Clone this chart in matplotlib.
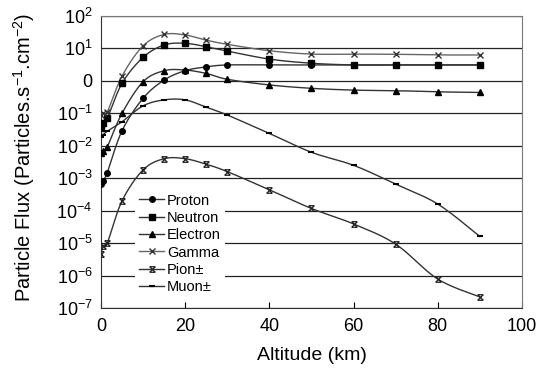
import numpy as np
import matplotlib
matplotlib.use('Agg')
import matplotlib.pyplot as plt
from matplotlib.path import Path

plt.rcParams['font.family'] = 'Liberation Sans'
plt.rcParams['mathtext.fontset'] = 'custom'
plt.rcParams['mathtext.rm'] = 'Liberation Sans'
plt.rcParams['mathtext.it'] = 'Liberation Sans'
plt.rcParams['mathtext.default'] = 'regular'

# altitude (km) and particle flux (particles/s/cm2) per species
altitude = [0, 0.5, 1.5, 5, 10, 15, 20, 25, 30, 40, 50, 60, 70, 80, 90]
proton = [6.5e-4, 8.5e-4, 1.5e-3, 0.029, 0.29, 1.06, 2.06, 2.7, 3.1, 3.1, 3.1, 3.1, 3.1, 3.1, 3.1]
neutron = [0.036, 0.049, 0.07, 0.84, 5.3, 12.8, 14.4, 11.3, 8.3, 4.7, 3.5, 3.1, 3.1, 3.1, 3.1]
electron = [0.0058, 0.0069, 0.0093, 0.1, 0.94, 2.06, 2.16, 1.7, 1.12, 0.75, 0.59, 0.52, 0.50, 0.46, 0.44]
gamma = [0.09, 0.10, 0.11, 1.4, 12, 27, 26, 18, 13.4, 8.5, 6.7, 6.7, 6.6, 6.3, 6.3]
pion = [4.5e-6, 8e-6, 1e-5, 2e-4, 1.8e-3, 4e-3, 4e-3, 2.7e-3, 1.6e-3, 4.4e-4, 1.17e-4, 3.9e-5, 9.3e-6, 7.8e-7, 2.2e-7]
muon = [0.019, 0.022, 0.028, 0.055, 0.17, 0.26, 0.26, 0.155, 0.089, 0.024, 0.0063, 0.0025, 6.6e-4, 1.6e-4, 1.6e-5]

names = ['Proton', 'Neutron', 'Electron', 'Gamma', 'Pion\u00b1', 'Muon\u00b1']
series = [proton, neutron, electron, gamma, pion, muon]

# asterisk-like marker: a cross capped top and bottom
star = Path([(-1, -1), (1, 1), (-1, 1), (1, -1), (-1, 1), (1, 1), (-1, -1), (1, -1)],
            [Path.MOVETO, Path.LINETO, Path.MOVETO, Path.LINETO,
             Path.MOVETO, Path.LINETO, Path.MOVETO, Path.LINETO])

styles = [
    dict(marker='o', ms=4, mfc='black', mec='black'),
    dict(marker='s', ms=4, mfc='black', mec='black'),
    dict(marker='^', ms=4.5, mfc='black', mec='black'),
    dict(marker='x', ms=4.5, mec='#333333', mew=1.0),
    dict(marker=star, ms=4, mec='#222222', mew=0.9),
    dict(marker='_', ms=4, mec='black', mew=1.5),
]
line_colors = ['#333333', '#333333', '#333333', '#666666', '#333333', '#333333']

fig = plt.figure(figsize=(5.37, 3.72), dpi=100)
ax = fig.add_axes([0.188, 0.172, 0.784, 0.785])
ax.set_yscale('log')
ax.set_xlim(0, 100)
ax.set_ylim(1e-7, 1e2)


def smooth(xs, ys, n=20):
    # Catmull-Rom curve through the points, built in display space
    pts = ax.transData.transform(np.column_stack([xs, ys]))
    p = np.vstack([pts[0], pts, pts[-1]])
    out = []
    t = np.linspace(0, 1, n, endpoint=False)[:, None]
    for i in range(1, len(p) - 2):
        p0, p1, p2, p3 = p[i - 1], p[i], p[i + 1], p[i + 2]
        c1 = p1 + (p2 - p0) / 6
        c2 = p2 - (p3 - p1) / 6
        seg = ((1 - t) ** 3) * p1 + 3 * ((1 - t) ** 2) * t * c1 + 3 * (1 - t) * t ** 2 * c2 + t ** 3 * p2
        out.append(seg)
    out.append(pts[-1][None, :])
    res = ax.transData.inverted().transform(np.vstack(out))
    return res[:, 0], res[:, 1]


for vals, name, st, lc in zip(series, names, styles, line_colors):
    sx, sy = smooth(altitude, vals)
    ax.plot(sx, sy, color=lc, lw=1.0, zorder=3)
    ax.plot(altitude, vals, ls='none', zorder=4, **st)
    # legend proxy
    ax.plot([], [], color=lc, lw=1.0, label=name, **st)

for k in range(-7, 3):
    ax.axhline(10.0 ** k, color='#222222', lw=0.9, zorder=1)

ticks = [10.0 ** k for k in range(-7, 3)]
labels = ['$10^{%d}$' % k for k in range(-7, 3)]
labels[7] = '0'
ax.set_yticks(ticks)
ax.set_yticklabels(labels, fontsize=13)
ax.yaxis.set_minor_locator(plt.NullLocator())
ax.tick_params(axis='y', length=0, pad=6)
ax.set_xticks([0, 20, 40, 60, 80, 100])
ax.tick_params(axis='x', direction='in', length=4, labelsize=13, pad=7)

for side in ['top', 'right']:
    ax.spines[side].set_color('#777777')
for side in ['left', 'bottom']:
    ax.spines[side].set_color('#333333')

ax.set_xlabel('Altitude (km)', fontsize=14, labelpad=9)
ax.set_ylabel('Particle Flux (Particles.s$^{-1}$.cm$^{-2}$)', fontsize=14.5)
ax.yaxis.set_label_coords(-0.152, 0.515)

leg = ax.legend(loc='lower left', bbox_to_anchor=(0.063, 0.007), frameon=True,
                fontsize=10.5, handlelength=1.7, handletextpad=0.2,
                labelspacing=0.23, borderpad=0.3)
leg.get_frame().set_facecolor('white')
leg.get_frame().set_edgecolor('none')
leg.get_frame().set_alpha(1)

fig.savefig('out.png', dpi=100)
